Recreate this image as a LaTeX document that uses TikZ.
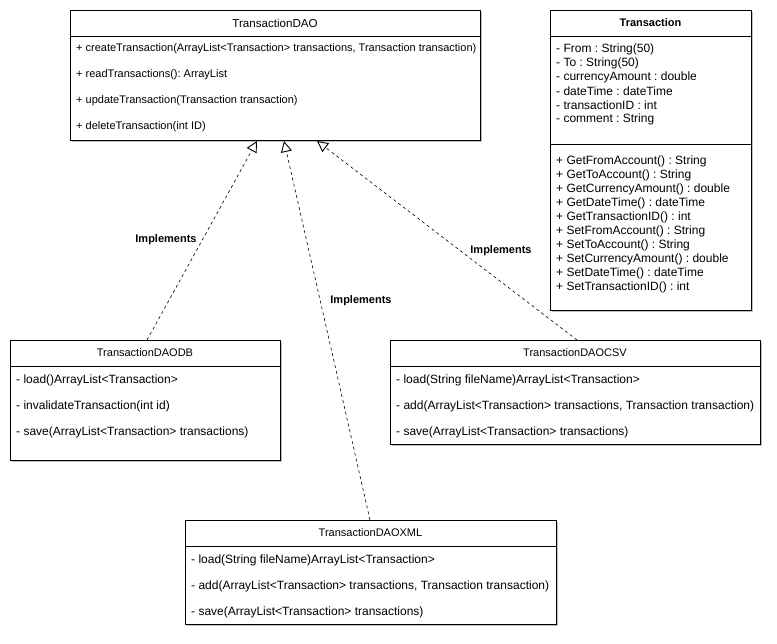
\documentclass[tikz,border=0pt]{standalone}
\usepackage{fontspec}
\setmainfont{Liberation Sans}
\usetikzlibrary{arrows.meta,shadows}
\frenchspacing
\begin{document}
\begin{tikzpicture}[x=1pt,y=-1pt,
  umlbox/.style={draw=black,line width=0.9pt,fill=white,anchor=north west,inner sep=0,
    drop shadow={shadow xshift=2pt,shadow yshift=-2pt,opacity=0.25,fill=black}},
  ttl/.style={font=\fontsize{11}{13}\selectfont,inner sep=0},
  row/.style={font=\fontsize{12}{14}\selectfont,anchor=west,inner sep=0},
  rowsm/.style={font=\fontsize{11}{13}\selectfont,anchor=west,inner sep=0},
  impl/.style={draw=black,line width=0.6pt,dash pattern=on 3pt off 3pt,
    -{Triangle[open,length=11pt,width=11pt,line width=0.9pt]}},
  lbl/.style={font=\bfseries\fontsize{11}{13}\selectfont,inner sep=0}]
\useasboundingbox (0,0) rectangle (777,644);

% TransactionDAO
\node[umlbox,minimum width=410,minimum height=130] (dao) at (70,10) {};
\draw[line width=0.9pt] (70,36) -- (480,36);
\node[ttl,font=\fontsize{11.6}{13}\selectfont] (daot) at (275,23) {TransactionDAO};
\node[rowsm] (d1) at (76,49) {+ createTransaction(ArrayList<Transaction> transactions, Transaction transaction)};
\node[rowsm] (d2) at (76,75) {+ readTransactions(): ArrayList};
\node[rowsm] (d3) at (76,101) {+ updateTransaction(Transaction transaction)};
\node[rowsm] (d4) at (76,127) {+ deleteTransaction(int ID)};

% Transaction
\node[umlbox,minimum width=201,minimum height=300] (tr) at (550,10) {};
\draw[line width=0.9pt] (550,36) -- (751,36);
\draw[line width=0.9pt] (550,144) -- (751,144);
\node[ttl,font=\bfseries\fontsize{11}{13}\selectfont] (trt) at (650.5,23) {Transaction};
\node[row] (a1) at (556,49) {- From : String(50)};
\node[row] (a2) at (556,63) {- To : String(50)};
\node[row] (a3) at (556,77) {- currencyAmount : double};
\node[row] (a4) at (556,91) {- dateTime : dateTime};
\node[row] (a5) at (556,105) {- transactionID : int};
\node[row] (a6) at (556,119) {- comment : String};
\node[row] (m1) at (556,161) {+ GetFromAccount() : String};
\node[row] (m2) at (556,175) {+ GetToAccount() : String};
\node[row] (m3) at (556,189) {+ GetCurrencyAmount() : double};
\node[row] (m4) at (556,203) {+ GetDateTime() : dateTime};
\node[row] (m5) at (556,217) {+ GetTransactionID() : int};
\node[row] (m6) at (556,231) {+ SetFromAccount() : String};
\node[row] (m7) at (556,245) {+ SetToAccount() : String};
\node[row] (m8) at (556,259) {+ SetCurrencyAmount() : double};
\node[row] (m9) at (556,273) {+ SetDateTime() : dateTime};
\node[row] (m10) at (556,287) {+ SetTransactionID() : int};

% TransactionDAODB
\node[umlbox,minimum width=270,minimum height=120] (db) at (10,340) {};
\draw[line width=0.9pt] (10,366) -- (280,366);
\node[ttl] (dbt) at (145,353) {TransactionDAODB};
\node[row] (b1) at (16,380) {- load()ArrayList<Transaction>};
\node[row] (b2) at (16,406) {- invalidateTransaction(int id)};
\node[row] (b3) at (16,432) {- save(ArrayList<Transaction> transactions)};

% TransactionDAOCSV
\node[umlbox,minimum width=370,minimum height=104] (csv) at (390,340) {};
\draw[line width=0.9pt] (390,366) -- (760,366);
\node[ttl] (csvt) at (575,353) {TransactionDAOCSV};
\node[row] (c1) at (396,380) {- load(String fileName)ArrayList<Transaction>};
\node[row] (c2) at (396,406) {- add(ArrayList<Transaction> transactions, Transaction transaction)};
\node[row] (c3) at (396,432) {- save(ArrayList<Transaction> transactions)};

% TransactionDAOXML
\node[umlbox,minimum width=371,minimum height=104] (xml) at (185,520) {};
\draw[line width=0.9pt] (185,546) -- (556,546);
\node[ttl] (xmlt) at (370.5,533) {TransactionDAOXML};
\node[row] (x1) at (191,560) {- load(String fileName)ArrayList<Transaction>};
\node[row] (x2) at (191,586) {- add(ArrayList<Transaction> transactions, Transaction transaction)};
\node[row] (x3) at (191,612) {- save(ArrayList<Transaction> transactions)};

% connector endpoints
\coordinate (tipdb) at (257,141);
\coordinate (tipxml) at (284,141);
\coordinate (tipcsv) at (317,141);
\coordinate (srcdb) at (147,340);
\coordinate (srcxml) at (370,520);
\coordinate (srccsv) at (577,340);

\draw[impl] (srcdb) -- (tipdb);
\draw[impl] (srcxml) -- (tipxml);
\draw[impl] (srccsv) -- (tipcsv);

\node[lbl] (l1) at (166,240) {Implements};
\node[lbl] (l2) at (361,301) {Implements};
\node[lbl] (l3) at (501,251) {Implements};
\end{tikzpicture}
\end{document}
